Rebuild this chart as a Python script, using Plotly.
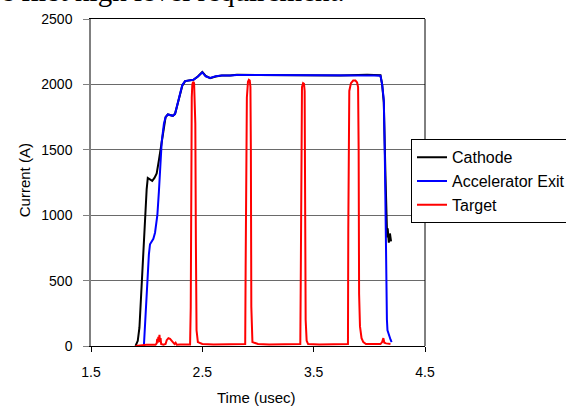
import plotly.graph_objects as go

# ---------------- data ----------------
cathode_t = [1.90, 1.92, 1.935, 1.955, 1.97, 1.985, 2.0, 2.01, 2.03, 2.05, 2.07, 2.09, 2.11, 2.135,
             2.155, 2.17, 2.19, 2.21, 2.235, 2.255, 2.28, 2.30, 2.32, 2.345, 2.37, 2.42, 2.46, 2.50,
             2.53, 2.57, 2.62, 2.674, 2.75, 2.81, 3.0, 3.2, 3.4, 3.6, 3.74, 3.98, 4.05, 4.10, 4.115,
             4.13, 4.145, 4.155, 4.16, 4.165, 4.175, 4.185, 4.195]
cathode_a = [0, 40, 140, 500, 760, 1000, 1200, 1285, 1275, 1262, 1285, 1320, 1420, 1560,
             1700, 1750, 1770, 1765, 1760, 1775, 1860, 1930, 1990, 2025, 2030, 2035, 2060, 2095,
             2065, 2048, 2060, 2068, 2068, 2073, 2072, 2070, 2069, 2068, 2068, 2074, 2074, 2070, 2000,
             1860, 1300, 850, 830, 900, 790, 860, 800]

accel_t = [1.975, 1.99, 2.006, 2.02, 2.03, 2.045, 2.06, 2.075, 2.085, 2.096, 2.11, 2.135,
           2.155, 2.17, 2.19, 2.21, 2.235, 2.255, 2.28, 2.30, 2.32, 2.345, 2.37, 2.42, 2.46, 2.50,
           2.53, 2.57, 2.62, 2.674, 2.75, 2.81, 3.0, 3.2, 3.4, 3.6, 3.74, 3.98, 4.05, 4.10, 4.115,
           4.13, 4.14, 4.145, 4.148, 4.152, 4.158, 4.163, 4.175, 4.19, 4.20]
accel_a = [0, 250, 500, 700, 778, 800, 820, 866, 920, 1000, 1182, 1560,
           1700, 1750, 1770, 1765, 1760, 1775, 1860, 1930, 1995, 2025, 2030, 2035, 2060, 2092,
           2062, 2050, 2062, 2068, 2068, 2072, 2072, 2070, 2069, 2068, 2068, 2068, 2068, 2066, 2000,
           1880, 1400, 1000, 600, 350, 200, 120, 80, 50, 30]

target_t = [1.90, 2.00, 2.08, 2.09, 2.095, 2.10, 2.105, 2.11, 2.115, 2.12, 2.125, 2.13, 2.15,
            2.17, 2.18, 2.195, 2.21, 2.225, 2.24, 2.25, 2.26, 2.27, 2.30, 2.35, 2.39,
            2.396, 2.40, 2.405, 2.41, 2.418, 2.426, 2.432, 2.437, 2.442, 2.448, 2.46,
            2.50, 2.60, 2.70, 2.80, 2.885,
            2.889, 2.893, 2.90, 2.91, 2.918, 2.926, 2.932, 2.936, 2.940, 2.95,
            3.00, 3.10, 3.20, 3.30, 3.38,
            3.384, 3.388, 3.395, 3.405, 3.413, 3.419, 3.423, 3.428, 3.437, 3.45,
            3.55, 3.65, 3.75, 3.808,
            3.811, 3.814, 3.82, 3.835, 3.855, 3.875, 3.89, 3.899, 3.904, 3.908, 3.916, 3.93, 3.946,
            3.97, 4.05, 4.10, 4.115, 4.126, 4.135, 4.15, 4.19]
target_a = [0, 10, 10, 20, 55, 25, 70, 35, 85, 30, 60, 15, 10,
            15, 45, 60, 55, 40, 30, 15, 25, 10, 12, 10, 12,
            300, 1600, 1900, 2000, 2020, 2010, 1900, 1700, 800, 120, 30,
            15, 12, 12, 12, 15,
            600, 1550, 1900, 2020, 2035, 2030, 1980, 1500, 300, 30,
            15, 12, 12, 12, 15,
            500, 1700, 1980, 2010, 2005, 1950, 1200, 200, 40, 15,
            12, 12, 12, 15,
            900, 1800, 1950, 2010, 2030, 2030, 2015, 1980, 1500, 400, 150, 60, 30,
            15, 12, 15, 30, 60, 25, 20, 15]

assert len(cathode_t) == len(cathode_a)
assert len(accel_t) == len(accel_a)
assert len(target_t) == len(target_a)

x_ticks = [1.5, 2.5, 3.5, 4.5]
x_tick_labels = ["1.5", "2.5", "3.5", "4.5"]
y_ticks = [0, 500, 1000, 1500, 2000, 2500]

FONT = "Liberation Sans, Arial, sans-serif"

fig = go.Figure()
fig.add_trace(go.Scatter(x=cathode_t, y=cathode_a, mode="lines", name="Cathode",
                         line=dict(color="black", width=2)))
fig.add_trace(go.Scatter(x=accel_t, y=accel_a, mode="lines", name="Accelerator Exit",
                         line=dict(color="#0000ff", width=2)))
fig.add_trace(go.Scatter(x=target_t, y=target_a, mode="lines", name="Target",
                         line=dict(color="#ff0000", width=2)))

# plot area: x 91..425 px, y 18.5..346 px
L, R, T, B = 91, 425, 18.5, 346
W, H = 566, 408

def px_x(p):
    return (p - L) / (R - L)

def px_y(p):
    return (B - p) / (B - T)

fig.update_layout(
    width=W, height=H,
    margin=dict(l=L, r=W - R, t=T, b=H - B, autoexpand=False),
    paper_bgcolor="white", plot_bgcolor="white",
    font=dict(family=FONT, size=14, color="black"),
    showlegend=True,
    legend=dict(x=px_x(411), y=px_y(139), xanchor="left", yanchor="top",
                bgcolor="white", bordercolor="black", borderwidth=1,
                font=dict(family=FONT, size=16, color="black")),
    xaxis=dict(range=[1.5, 4.5], tickvals=x_ticks, ticktext=x_tick_labels,
               showgrid=False, zeroline=False, showline=True, linecolor="black", linewidth=1,
               mirror=True, ticks="outside", ticklen=5, tickcolor="black",
               ticklabelstandoff=8, tickfont=dict(size=14)),
    yaxis=dict(range=[0, 2500], tickvals=y_ticks,
               showgrid=True, gridcolor="#6a6a6a", gridwidth=1, zeroline=False,
               showline=True, linecolor="#808080", linewidth=1.5,
               ticks="outside", ticklen=6, tickcolor="#808080",
               ticklabelstandoff=8, tickfont=dict(size=14)),
    shapes=[dict(type="line", xref="paper", yref="paper", x0=1, x1=1, y0=0, y1=1,
                 line=dict(color="black", width=1))],
    annotations=[
        dict(text="Time (usec)", xref="paper", yref="paper", x=px_x(256), y=px_y(398),
             xanchor="center", yanchor="middle", showarrow=False, font=dict(size=15)),
        dict(text="Current (A)", xref="paper", yref="paper", x=px_x(24), y=px_y(180),
             xanchor="center", yanchor="middle", showarrow=False, textangle=-90,
             font=dict(size=15)),
        dict(text="e first high level requirement.", xref="paper", yref="paper",
             x=px_x(-1), y=px_y(-10), xanchor="left", yanchor="middle", showarrow=False,
             font=dict(family="Liberation Serif, Times New Roman, serif", size=29, color="black")),
    ],
)

fig.write_html("out.html")
